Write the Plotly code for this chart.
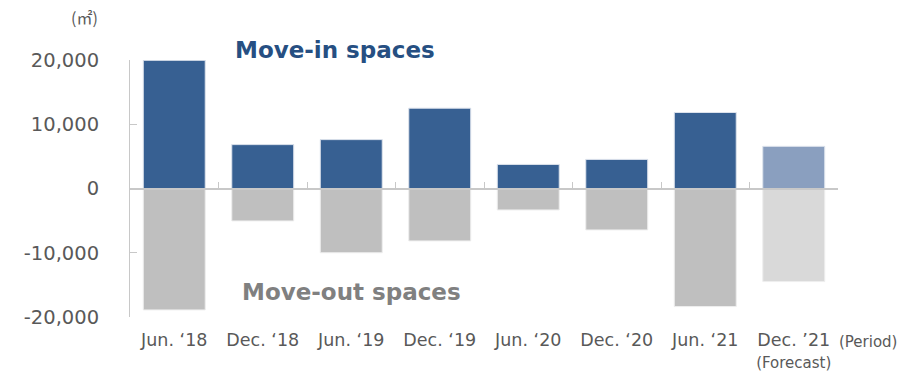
import plotly.graph_objects as go

# Period labels and move-in / move-out areas (m²)
categories = ["Jun. ‘18", "Dec. ‘18", "Jun. ‘19", "Dec. ‘19",
              "Jun. ‘20", "Dec. ‘20", "Jun. ‘21", "Dec. ’21"]
tick_labels = categories[:-1] + ["Dec. ’21<br><span style='font-size:15px'>(Forecast)</span>"]
move_in = [19950, 6830, 7610, 12500, 3750, 4530, 11830, 6560]
move_out = [-18900, -5050, -10000, -8160, -3340, -6450, -18380, -14490]
is_forecast = [False] * 7 + [True]
y_ticks = [-20000, -10000, 0, 10000, 20000]
y_tick_text = ["-20,000", "-10,000", "0", "10,000", "20,000"]

in_colors = ["#8A9FBF" if f else "#376092" for f in is_forecast]
out_colors = ["#D9D9D9" if f else "#BFBFBF" for f in is_forecast]

fig = go.Figure()
fig.add_trace(go.Bar(x=categories, y=move_in, marker=dict(color=in_colors,
                     line=dict(color="#DDE3EC", width=1)), name="Move-in spaces"))
fig.add_trace(go.Bar(x=categories, y=move_out, marker=dict(color=out_colors,
                     line=dict(color="#EEEEEE", width=1)), name="Move-out spaces"))

n = len(categories)
boundaries = [i - 0.5 for i in range(n + 1)]

L, R, T, B = 130, 74, 60, 54
W, H = 912, 371
plot_w = W - L - R
plot_h = H - T - B


def px(x):
    return (x - L) / plot_w


def py(y):
    return (H - B - y) / plot_h


fig.update_layout(
    width=W, height=H,
    margin=dict(l=L, r=R, t=T, b=B),
    paper_bgcolor="white", plot_bgcolor="white",
    barmode="relative", bargap=0.3, showlegend=False,
    font=dict(family="DejaVu Sans", color="#595959"),
    xaxis=dict(type="category", range=[-0.5, n - 0.5], showline=False, ticks="",
               showgrid=False, tickvals=categories, ticktext=tick_labels,
               tickfont=dict(size=17.5, color="#595959"), ticklabelstandoff=10,
               automargin=False),
    xaxis2=dict(overlaying="x", anchor="free", position=0.5, range=[-0.5, n - 0.5],
                showline=True, linecolor="#C8C8C8", linewidth=2, ticks="inside",
                ticklen=6, tickwidth=1, tickcolor="#C8C8C8", tickvals=boundaries,
                showticklabels=False, showgrid=False, zeroline=False, automargin=False),
    yaxis=dict(range=[-20000, 20000], tickvals=y_ticks, ticktext=y_tick_text,
               showline=True, linecolor="#C8C8C8", linewidth=1,
               ticks="inside", ticklen=7, tickcolor="#C8C8C8", showgrid=False,
               zeroline=False, tickfont=dict(size=19.5, color="#595959"),
               ticklabelstandoff=26, automargin=False),
)

# Invisible helper trace so the overlaid axis is drawn
fig.add_trace(go.Scatter(x=[boundaries[0], boundaries[-1]], y=[0, 0], xaxis="x2",
                         mode="lines", line=dict(width=0), hoverinfo="skip",
                         showlegend=False))

fig.add_annotation(text="<b>Move-in spaces</b>", x=px(335), y=py(50), xref="paper",
                   yref="paper", xanchor="center", yanchor="middle", showarrow=False,
                   font=dict(size=23, color="#264F82"))
fig.add_annotation(text="<b>Move-out spaces</b>", x=px(351), y=py(292), xref="paper",
                   yref="paper", xanchor="center", yanchor="middle", showarrow=False,
                   font=dict(size=23, color="#808080"))
fig.add_annotation(text="(㎡)", x=px(84), y=py(17), xref="paper", yref="paper",
                   xanchor="center", yanchor="middle", showarrow=False,
                   font=dict(size=16, color="#595959", family="Noto Sans CJK JP"))
fig.add_annotation(text="(Period)", x=px(837), y=py(342), xref="paper", yref="paper",
                   xanchor="left", yanchor="middle", showarrow=False,
                   font=dict(size=15, color="#595959"))

fig.write_html("out.html")
